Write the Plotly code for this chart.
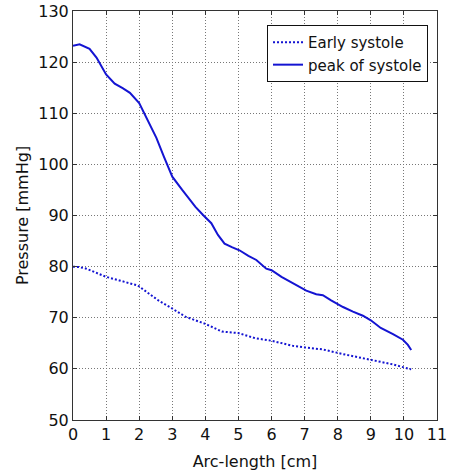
import plotly.graph_objects as go

peak_x = [0, 0.2, 0.5, 0.71, 1.0, 1.26, 1.5, 1.72, 2.0, 2.27, 2.52, 2.74, 3.0, 3.3, 3.7, 3.93,
          4.18, 4.38, 4.58, 4.8, 5.03, 5.3, 5.54, 5.84, 6.0, 6.3, 6.65, 7.05, 7.35, 7.55, 7.8,
          8.16, 8.46, 8.76, 9.0, 9.3, 9.67, 9.97, 10.12, 10.22]
peak_y = [123.2, 123.5, 122.6, 120.9, 117.6, 115.8, 114.9, 114.0, 112.0, 108.4, 105.2, 101.6,
          97.6, 95.0, 91.7, 90.1, 88.5, 86.2, 84.5, 83.8, 83.2, 82.1, 81.3, 79.6, 79.3, 78.0,
          76.7, 75.3, 74.6, 74.4, 73.4, 72.1, 71.2, 70.4, 69.5, 68.0, 66.8, 65.7, 64.7, 63.7]

early_x = [0, 0.2, 0.4, 0.7, 1.0, 1.4, 1.96, 2.3, 2.6, 2.95, 3.4, 4.0, 4.5, 5.0, 5.5, 6.0,
           6.65, 7.0, 7.55, 8.15, 8.95, 9.65, 10.22]
early_y = [80.0, 79.9, 79.6, 78.8, 78.0, 77.3, 76.3, 74.7, 73.3, 72.0, 70.2, 68.8, 67.3, 67.0,
           66.0, 65.5, 64.5, 64.2, 63.8, 62.9, 61.9, 60.9, 59.9]

x_ticks = list(range(0, 12))
y_ticks = list(range(50, 131, 10))

font = "DejaVu Sans"
blue = "#1414d2"

fig = go.Figure()
fig.add_trace(go.Scatter(x=early_x, y=early_y, mode="lines", name="Early systole",
                         line=dict(color=blue, width=2, dash="2px,2px")))
fig.add_trace(go.Scatter(x=peak_x, y=peak_y, mode="lines", name="peak of systole",
                         line=dict(color=blue, width=2)))

axis_common = dict(showline=True, linecolor="#333", linewidth=1, mirror="ticks",
                   ticks="inside", ticklen=4, tickcolor="#333",
                   showgrid=True, gridcolor="#777", gridwidth=1, griddash="1px,2px",
                   zeroline=False, automargin=False,
                   tickfont=dict(family=font, size=16, color="#111"))

fig.update_layout(
    width=450, height=474,
    margin=dict(l=73, r=13, t=11, b=54, autoexpand=False),
    paper_bgcolor="white", plot_bgcolor="white",
    font=dict(family=font, size=16, color="#111"),
    xaxis=dict(range=[0, 11], tickvals=x_ticks,
               title=dict(text="Arc-length [cm]", standoff=12, font=dict(family=font, size=16)),
               **axis_common),
    yaxis=dict(range=[50, 130], tickvals=y_ticks,
               title=dict(text="Pressure [mmHg]", standoff=5, font=dict(family=font, size=16)),
               **axis_common),
    legend=dict(x=0.533, y=0.966, xanchor="left", yanchor="top",
                bgcolor="white", bordercolor="#111", borderwidth=1,
                font=dict(family=font, size=15, color="#111"),
                itemwidth=30, tracegroupgap=0),
    showlegend=True,
)

fig.write_html("out.html", config={"displayModeBar": False},
               post_script="document.body.style.margin='0';document.body.style.overflow='hidden';")
